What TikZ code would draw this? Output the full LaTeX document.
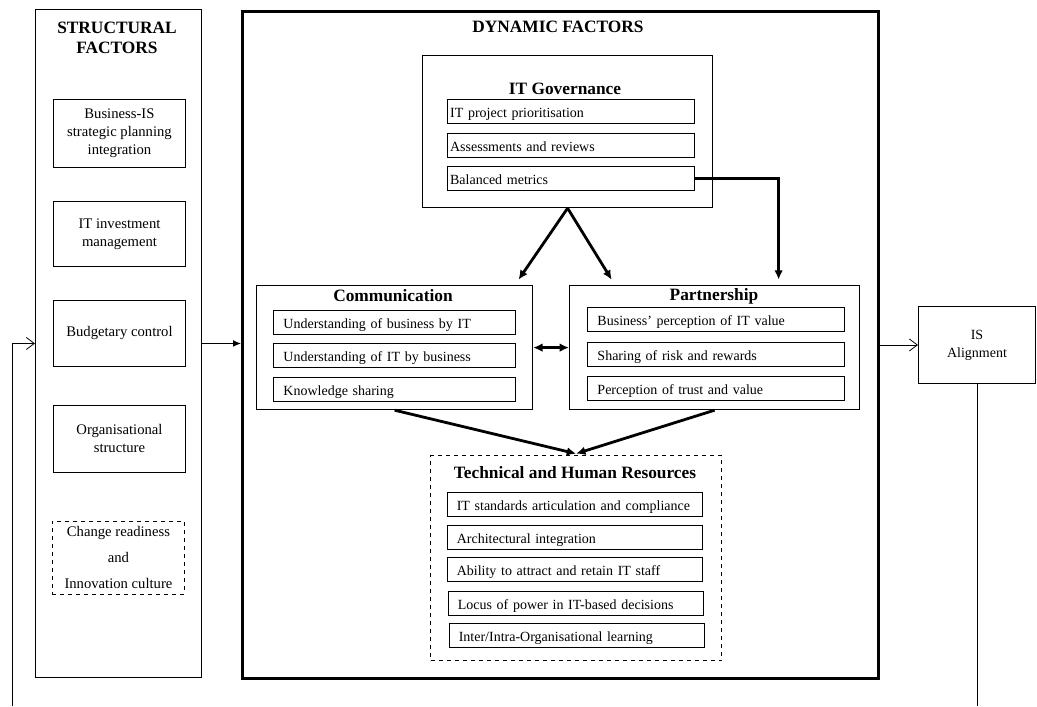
\documentclass[tikz,border=0pt]{standalone}
\usepackage{fontspec}
\setmainfont{Liberation Serif}
\usetikzlibrary{arrows.meta}

\begin{document}
\begin{tikzpicture}[
    x=0.75pt, y=-0.75pt,
    font=\fontsize{10.5}{12.5}\selectfont,
    outer/.style={rectangle, draw=black, line width=0.7pt, anchor=north west, inner sep=0pt},
    dynbox/.style={rectangle, draw=black, line width=2.6pt, anchor=north west, inner sep=0pt},
    group/.style={rectangle, draw=black, line width=0.9pt, anchor=north west, inner sep=0pt},
    heading/.style={font=\fontsize{13}{15}\selectfont\bfseries, align=center},
    factor/.style={rectangle, draw=black, line width=0.7pt, anchor=north west, minimum width=99pt, minimum height=50pt, inner sep=0pt, align=center, font=\fontsize{11}{13.5}\selectfont},
    item/.style={rectangle, draw=black, line width=0.7pt, anchor=north west, minimum height=18pt, inner ysep=0pt, text height=10pt, text depth=1pt, align=left},
    govitem/.style={item, inner xsep=2pt, text width=181.25pt},
    comitem/.style={item, inner xsep=7.5pt, text width=166.5pt},
    partitem/.style={item, inner xsep=7.5pt, text width=177.75pt},
    resitem/.style={item, inner xsep=7pt, text width=177.25pt},
    link/.style={-{Latex[length=7pt, width=6.5pt]}, line width=2.1pt},
    feed/.style={-{Straight Barb[length=6pt, width=9pt]}, line width=0.6pt}
]
\useasboundingbox (0,0) rectangle (1037,706);

% structural factors
\node[outer, minimum width=124.5pt, minimum height=501pt] (struct) at (35,9) {};
\node[heading] (structhead) at (117,38) {STRUCTURAL\\FACTORS};
\node[factor, minimum height=51pt] (planning) at (53,99) {Business-IS\\strategic planning\\integration};
\node[factor, minimum height=48.75pt] (invest) at (53,201) {IT investment\\management};
\node[factor, minimum height=49.5pt] (budget) at (53,300) {Budgetary control};
\node[factor, minimum height=50.25pt] (orgstruct) at (53,405) {Organisational\\structure};
\node[factor, dashed, minimum height=54.75pt] (culture) at (52,521) {Change readiness\\[6pt]and\\[6pt]Innovation culture};

% dynamic factors
\node[dynbox, minimum width=477pt, minimum height=500.25pt] (dyn) at (241,10) {};
\node[heading] (dynhead) at (558,27) {DYNAMIC FACTORS};

\node[group, minimum width=217.5pt, minimum height=114pt] (itgov) at (422,55) {};
\node[heading] (itgovhead) at (565,89) {IT Governance};
\node[govitem] (prio) at (447,99) {IT project prioritisation};
\node[govitem] (assess) at (447,133) {Assessments and reviews};
\node[govitem] (metrics) at (447,166) {Balanced metrics};

\node[group, minimum width=207pt, minimum height=93pt] (comm) at (256,285) {};
\node[heading] (commhead) at (393,296) {Communication};
\node[comitem] (bizbyit) at (273,310) {Understanding of business by IT};
\node[comitem] (itbybiz) at (273,343) {Understanding of IT by business};
\node[comitem] (knowledge) at (273,377) {Knowledge sharing};

\node[group, minimum width=217.5pt, minimum height=93pt] (part) at (569,285) {};
\node[heading] (parthead) at (714,296) {Partnership};
\node[partitem] (itvalue) at (587,307) {Business' perception of IT value};
\node[partitem] (risk) at (587,342) {Sharing of risk and rewards};
\node[partitem] (trust) at (587,376) {Perception of trust and value};

\node[group, dashed, minimum width=218.25pt, minimum height=153.75pt] (res) at (430,455) {};
\node[heading] (reshead) at (575,473) {Technical and Human Resources};
\node[resitem] (standards) at (447,492) {IT standards articulation and compliance};
\node[resitem] (arch) at (447,525) {Architectural integration};
\node[resitem] (staff) at (447,557) {Ability to attract and retain IT staff};
\node[resitem] (locus) at (448,591) {Locus of power in IT-based decisions};
\node[resitem] (learning) at (449,623) {Inter/Intra-Organisational learning};

% outcome
\node[outer, minimum width=87.75pt, minimum height=57.75pt, align=center, font=\fontsize{10.5}{13.5}\selectfont] (isal) at (918,306) {IS\\Alignment};

\coordinate (loopstart) at (12,706);
\coordinate (loopend) at (979,706);

% connectors
\draw[link] (itgov.south) -- ([xshift=-11pt, yshift=4pt]comm.north east);
\draw[link] (itgov.south) -- ([xshift=32pt, yshift=4pt]part.north west);
\draw[link] (metrics.east) -| ([xshift=48pt, yshift=4pt]part.north);
\draw[{Latex[length=7pt, width=6.5pt]}-{Latex[length=7pt, width=6.5pt]}, line width=1.8pt] (comm.east) -- (part.west);
\draw[link] (comm.south) -- ([yshift=1pt]res.north);
\draw[link] (part.south) -- ([yshift=1pt]res.north);

\draw[-{Latex[length=6pt, width=5pt]}, line width=0.6pt] (struct.east) -- (struct.east -| dyn.west);
\draw[feed] (dyn.east |- isal.west) -- (isal.west);
\draw[line width=0.6pt] (isal.south) -- (isal.south |- loopend);
\draw[feed] (loopstart) |- (struct.west);
\end{tikzpicture}
\end{document}
